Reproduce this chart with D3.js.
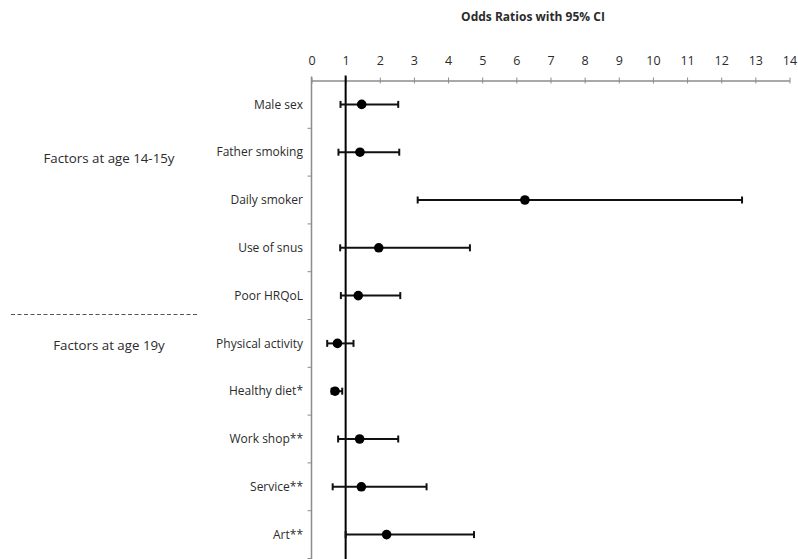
<!DOCTYPE html>
<html>
<head>
<meta charset="utf-8">
<script src="https://cdnjs.cloudflare.com/ajax/libs/d3/7.8.5/d3.min.js"></script>
<style>
  body { margin: 0; background: #fff; }
  text { font-family: "Open Sans", "Noto Sans", sans-serif; fill: #2b2b2b; }
</style>
</head>
<body>
<svg id="chart" width="798" height="559"></svg>
<script>
  // Forest plot data: odds ratios with 95% CI
  const factors = ['Male sex', 'Father smoking', 'Daily smoker', 'Use of snus', 'Poor HRQoL',
    'Physical activity', 'Healthy diet*', 'Work shop**', 'Service**', 'Art**'];
  const oddsRatio = [1.47, 1.42, 6.25, 1.97, 1.37, 0.76, 0.69, 1.41, 1.46, 2.20];
  const ciLower   = [0.85, 0.79, 3.11, 0.84, 0.86, 0.46, 0.59, 0.78, 0.62, 1.00];
  const ciUpper   = [2.54, 2.57, 12.61, 4.64, 2.60, 1.23, 0.90, 2.54, 3.37, 4.76];
  const xTicks = d3.range(0, 15);
  const groupLabels = ['Factors at age 14-15y', 'Factors at age 19y'];
  const groupRows = ['Father smoking', 'Physical activity'];

  const rows = factors.map((f, i) => ({
    name: f, or: oddsRatio[i], lo: ciLower[i], hi: ciUpper[i]
  }));

  const svg = d3.select('#chart');

  const x = d3.scaleLinear().domain([0, 14]).range([311.5, 789.5]);
  const y = d3.scaleBand().domain(factors).range([80.5, 558.5]);
  const yTop = 80.5;

  // title
  svg.append('text')
    .attr('x', 533).attr('y', 21)
    .attr('text-anchor', 'middle')
    .style('font-size', '12px')
    .style('font-weight', 'bold')
    .text('Odds Ratios with 95% CI');

  // x axis at top
  const xAxis = svg.append('g')
    .attr('transform', `translate(0,${yTop})`)
    .call(d3.axisTop(x).tickValues(xTicks).tickSize(3).tickPadding(13).tickSizeOuter(0));
  xAxis.select('.domain').attr('stroke', '#8c8c8c').attr('stroke-width', 1.5);
  xAxis.selectAll('.tick line').attr('stroke', '#8c8c8c').attr('y1', 3).attr('y2', -3);
  xAxis.selectAll('.tick text').style('font-size', '12.5px').attr('fill', '#2b2b2b');

  // y axis line with ticks at band boundaries
  svg.append('line')
    .attr('x1', x(0)).attr('x2', x(0))
    .attr('y1', yTop - 4).attr('y2', 559)
    .attr('stroke', '#8c8c8c').attr('stroke-width', 1.5);
  svg.append('g')
    .selectAll('line')
    .data(factors.slice(1).concat(['__end']))
    .enter()
    .append('line')
    .attr('x1', x(0) - 4).attr('x2', x(0))
    .attr('y1', d => d === '__end' ? y.range()[1] : y(d))
    .attr('y2', d => d === '__end' ? y.range()[1] : y(d))
    .attr('stroke', '#8c8c8c').attr('stroke-width', 1);

  // category labels
  svg.append('g')
    .selectAll('text')
    .data(factors)
    .enter()
    .append('text')
    .attr('x', 303)
    .attr('y', d => y(d) + y.bandwidth() / 2)
    .attr('dy', '0.35em')
    .attr('text-anchor', 'end')
    .style('font-size', '12px')
    .text(d => d);

  // reference line at OR = 1
  svg.append('line')
    .attr('x1', x(1)).attr('x2', x(1))
    .attr('y1', yTop - 5).attr('y2', 559)
    .attr('stroke', '#000').attr('stroke-width', 2);

  // confidence intervals
  const ci = svg.append('g')
    .selectAll('g')
    .data(rows)
    .enter()
    .append('g')
    .attr('transform', d => `translate(0,${y(d.name) + y.bandwidth() / 2})`);

  ci.append('line')
    .attr('x1', d => x(d.lo)).attr('x2', d => x(d.hi))
    .attr('stroke', '#111').attr('stroke-width', 2);
  ci.append('line')
    .attr('x1', d => x(d.lo)).attr('x2', d => x(d.lo))
    .attr('y1', -3.5).attr('y2', 3.5)
    .attr('stroke', '#111').attr('stroke-width', 2);
  ci.append('line')
    .attr('x1', d => x(d.hi)).attr('x2', d => x(d.hi))
    .attr('y1', -3.5).attr('y2', 3.5)
    .attr('stroke', '#111').attr('stroke-width', 2);
  ci.append('circle')
    .attr('cx', d => x(d.or))
    .attr('r', 4.8)
    .attr('fill', '#000');

  // group labels and separator
  const groupShift = [6, 2];
  svg.append('g')
    .selectAll('text')
    .data(groupLabels)
    .enter()
    .append('text')
    .attr('x', 109)
    .attr('y', (d, i) => y(groupRows[i]) + y.bandwidth() / 2 + groupShift[i])
    .attr('dy', '0.35em')
    .attr('text-anchor', 'middle')
    .style('font-size', '13.3px')
    .text(d => d);

  svg.append('line')
    .attr('x1', 11).attr('x2', 198)
    .attr('y1', 314.5).attr('y2', 314.5)
    .attr('stroke', '#555').attr('stroke-width', 1)
    .attr('stroke-dasharray', '4,2.5');
</script>
</body>
</html>
